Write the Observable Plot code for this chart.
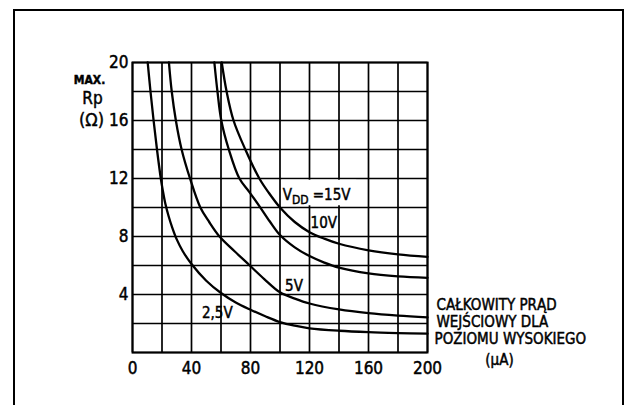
<!DOCTYPE html>
<html><head><meta charset="utf-8">
<script src="https://cdn.jsdelivr.net/npm/d3@7"></script>
<script src="https://cdn.jsdelivr.net/npm/@observablehq/plot@0.6"></script>
<style>
html,body{margin:0;padding:0;background:#fff;}
#wrap{position:relative;width:626px;height:405px;overflow:hidden;background:#fff;}
#border{position:absolute;left:13px;top:9px;width:611px;height:420px;border:2px solid #000;box-sizing:border-box;}
#chart{position:absolute;left:0;top:0;}
#chart svg text{stroke:#000;stroke-width:0.45px;}
</style></head><body>
<div id="wrap"><div id="border"></div><div id="chart"></div></div>
<script>
// Axis ticks
const xTicks = [0, 40, 80, 120, 160, 200];
const yTicks = [4, 8, 12, 16, 20];
const xGrid = [0, 20, 40, 60, 80, 100, 120, 140, 160, 180, 200];
const yGrid = [0, 2, 4, 6, 8, 10, 12, 14, 16, 18, 20];

// Curves: total high-level input current (µA) vs max Rp (Ω)
const current25 = [10.3, 12.2, 14.3, 16.6, 19.2, 20.5, 22.2, 24.5, 27, 30, 34, 40, 50, 60, 70, 80, 90, 100, 110, 120, 140, 160, 180, 200];
const rp25      = [20, 18, 16, 14, 12, 11.2, 10.3, 9.4, 8.6, 7.8, 7.0, 6.1, 4.95, 4.1, 3.45, 2.95, 2.5, 2.1, 1.85, 1.67, 1.5, 1.4, 1.34, 1.3];
const current5  = [24.7, 26.6, 29.4, 33.3, 39, 46, 52, 59, 69, 79, 89.5, 100, 110, 120, 140, 160, 180, 200];
const rp5       = [20, 18, 16, 14, 12, 10, 9, 8, 7, 6.05, 5.05, 4.15, 3.72, 3.38, 2.97, 2.71, 2.54, 2.42];
const current10 = [55.5, 57.6, 60.2, 65.3, 72.5, 79, 86, 93, 100, 110, 120, 130, 140, 160, 180, 200];
const rp10      = [20, 18, 16, 14, 12, 11.1, 10.1, 9.05, 8.1, 7.25, 6.65, 6.2, 5.85, 5.45, 5.25, 5.15];
const current15 = [60.5, 63.8, 68.5, 76.5, 86, 92.5, 100, 110, 120, 130, 140, 160, 180, 200];
const rp15      = [20, 18, 16, 14, 12, 11, 10, 9, 8.3, 7.85, 7.5, 7.05, 6.77, 6.6];

// Curve labels
const labelText = ["VDD =15V", "10V", "5V", "2,5V"];
const labelX    = [124.8, 129.7, 109.5, 57.5];
const labelY    = [10.85, 8.9, 4.6, 2.7];

const seriesList = [
  {name: "2,5V", xs: current25, ys: rp25},
  {name: "5V", xs: current5, ys: rp5},
  {name: "10V", xs: current10, ys: rp10},
  {name: "15V", xs: current15, ys: rp15}
];
const curves = seriesList.flatMap(s => s.xs.map((x, i) => ({series: s.name, x, y: s.ys[i]})));
const labels = labelText.map((t, i) => ({text: t, x: labelX[i], y: labelY[i]}));
const labelBox = [{x1: 101.5, x2: 152, y1: 10.12, y2: 11.88}];

const F = "DejaVu Sans Condensed, DejaVu Sans, sans-serif";
const side = (t, dx, dy, size, extra = {}) =>
  Plot.text([t], {frameAnchor: extra.anchor || "bottom-right", dx, dy, lineAnchor: "middle",
    textAnchor: extra.textAnchor || "start", fontSize: size, fontWeight: extra.fontWeight || "normal"});

const chart = Plot.plot({
  width: 626, height: 405,
  marginLeft: 132, marginRight: 199, marginTop: 62, marginBottom: 53,
  x: {domain: [0, 200], label: null},
  y: {domain: [0, 20], label: null},
  style: {fontFamily: F, fontSize: "17px", color: "#000", background: "transparent"},
  marks: [
    Plot.gridX(xGrid, {stroke: "#000", strokeOpacity: 1, strokeWidth: 1.7}),
    Plot.gridY(yGrid, {stroke: "#000", strokeOpacity: 1, strokeWidth: 1.7}),
    Plot.rect(labelBox, {x1: "x1", x2: "x2", y1: "y1", y2: "y2", fill: "#fff"}),
    Plot.frame({stroke: "#000", strokeWidth: 2}),
    Plot.line(curves, {x: "x", y: "y", z: "series", curve: "catmull-rom", stroke: "#000", strokeWidth: 2.3}),
    Plot.text(labels, {x: "x", y: "y", text: "text", textAnchor: "middle", fontSize: 15, fill: "#000"}),
    Plot.axisX(xTicks, {tickSize: 0, tickPadding: 9, fontSize: 17, label: null}),
    Plot.axisY(yTicks, {tickSize: 0, tickPadding: 4, fontSize: 17, label: null}),
    side("MAX.", -43, 18, 12, {anchor: "top-left", textAnchor: "middle", fontWeight: "bold"}),
    side("Rp", -40, 36, 17, {anchor: "top-left", textAnchor: "middle"}),
    side("(Ω)", -41, 58, 18, {anchor: "top-left", textAnchor: "middle"}),
    side("CAŁKOWITY PRĄD", 9, -47, 15),
    side("WEJŚCIOWY DLA", 9, -30, 15),
    side("POZIOMU WYSOKIEGO", 7, -13, 15),
    side("(µA)", 72, 8, 15, {textAnchor: "middle"})
  ]
});
document.getElementById("chart").appendChild(chart);

// subscript for V_DD
d3.select(chart).selectAll("text").each(function() {
  if (this.textContent === "VDD =15V") {
    this.textContent = "";
    const t = d3.select(this);
    t.append("tspan").text("V");
    t.append("tspan").attr("font-size", 12).attr("dy", "4").text("DD");
    t.append("tspan").attr("dy", "-4").text(" =15V");
  }
});
</script>
</body></html>
